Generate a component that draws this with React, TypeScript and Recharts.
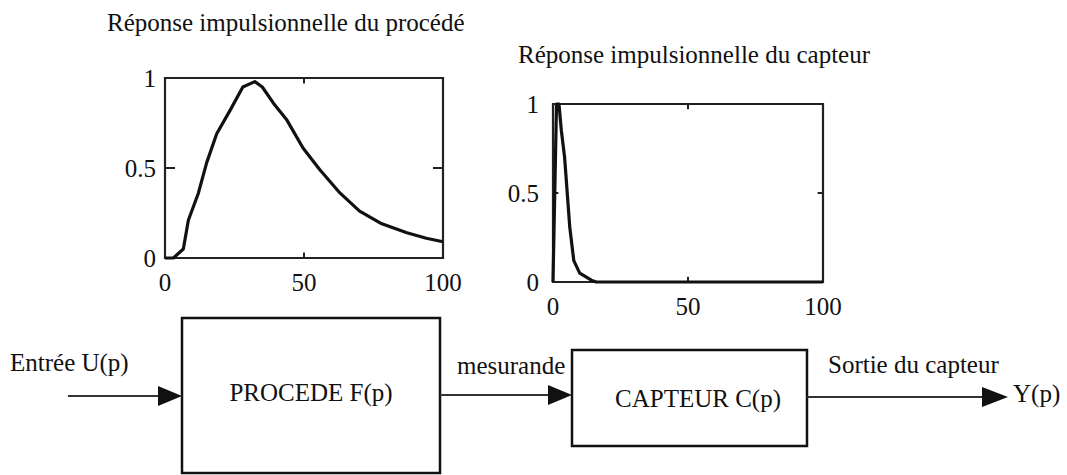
import { LineChart, Line, XAxis, YAxis, ReferenceLine, ReferenceArea } from "recharts";

// impulse response of the process
const procX = [0, 3, 6.6, 8.4, 12, 15, 18.6, 23.4, 28, 32.3, 35, 39, 43.7, 49.7, 55.7, 63, 70, 78, 87, 94, 100];
const procY = [0, 0, 0.05, 0.21, 0.36, 0.53, 0.69, 0.82, 0.95, 0.98, 0.95, 0.86, 0.77, 0.61, 0.49, 0.36, 0.26, 0.19, 0.14, 0.11, 0.09];

// impulse response of the sensor
const captX = [0, 1.3, 2.2, 3.1, 4.3, 6.2, 7.7, 9.9, 14.2, 16, 50, 100];
const captY = [0, 1, 1, 0.85, 0.7, 0.31, 0.12, 0.05, 0.01, 0, 0, 0];

const xTicks = [0, 50, 100];
const yTicks = [0, 0.5, 1];
const yTickLabels = ["0", "0.5", "1"];

const procData = procX.map((x, i) => ({ x, y: procY[i] }));
const captData = captX.map((x, i) => ({ x, y: captY[i] }));

const FONT = '"Liberation Serif", "Times New Roman", serif';
const INK = "#111";

type PanelProps = {
  data: { x: number; y: number }[];
  width: number;
  height: number;
  margin: { top: number; right: number; bottom: number; left: number };
  yMargin: number;
  yTickLen: number; // in x units
  xTickLen: number; // in y units
};

function Panel({ data, width, height, margin, yMargin, yTickLen, xTickLen }: PanelProps) {
  const tickStyle = { fill: INK, fontSize: 25, fontFamily: FONT };
  return (
    <LineChart width={width} height={height} data={data} margin={margin}>
      <XAxis
        dataKey="x"
        type="number"
        domain={[0, 100]}
        ticks={xTicks}
        tickLine={false}
        tickSize={0}
        tickMargin={15}
        height={40}
        axisLine={false}
        tick={tickStyle}
        interval={0}
      />
      <YAxis
        type="number"
        domain={[0, 1]}
        ticks={yTicks}
        tickFormatter={(v: number) => yTickLabels[yTicks.indexOf(v)]}
        tickLine={false}
        tickSize={0}
        tickMargin={yMargin}
        width={60}
        axisLine={false}
        tick={tickStyle}
        interval={0}
      />
      {/* frame round the plot */}
      <ReferenceArea x1={0} x2={100} y1={0} y2={1} fill="none" stroke="#222" strokeWidth={2.2} ifOverflow="visible" />
      {/* small inner tick marks */}
      <ReferenceLine segment={[{ x: 0, y: 0.5 }, { x: yTickLen, y: 0.5 }]} stroke="#222" strokeWidth={2} />
      <ReferenceLine segment={[{ x: 100 - yTickLen, y: 0.5 }, { x: 100, y: 0.5 }]} stroke="#222" strokeWidth={2} />
      <ReferenceLine segment={[{ x: 50, y: 0 }, { x: 50, y: xTickLen }]} stroke="#222" strokeWidth={2} />
      <ReferenceLine segment={[{ x: 50, y: 1 - xTickLen }, { x: 50, y: 1 }]} stroke="#222" strokeWidth={2} />
      <Line
        dataKey="y"
        type="linear"
        stroke={INK}
        strokeWidth={3.2}
        strokeLinejoin="round"
        dot={false}
        isAnimationActive={false}
      />
    </LineChart>
  );
}

export default function App() {
  const txt = { fontFamily: FONT, fontSize: 25, fill: INK };
  return (
    <div style={{ position: "relative", width: 1067, height: 475, background: "#fff", overflow: "hidden" }}>
      <style>{"body{margin:0}"}</style>
      <svg width={1067} height={475} style={{ position: "absolute", left: 0, top: 0 }}>
        <text x={107} y={31} {...txt}>Réponse impulsionnelle du procédé</text>
        <text x={518} y={63} {...txt}>Réponse impulsionnelle du capteur</text>

        {/* input */}
        <text x={10} y={371} {...txt}>Entrée U(p)</text>
        <line x1={68} y1={396} x2={162} y2={396} stroke="#333" strokeWidth={2} />
        <polygon points="158,386 182,396 158,406" fill={INK} />

        {/* process block */}
        <rect x={182} y={318} width={258} height={155} fill="none" stroke={INK} strokeWidth={2.5} />
        <text x={311} y={401} textAnchor="middle" {...txt}>PROCEDE F(p)</text>

        {/* measurand */}
        <text x={457} y={374} {...txt}>mesurande</text>
        <line x1={440} y1={395} x2={552} y2={395} stroke="#333" strokeWidth={2} />
        <polygon points="548,385 572,395 548,405" fill={INK} />

        {/* sensor block */}
        <rect x={572} y={350} width={235} height={96} fill="none" stroke={INK} strokeWidth={2.5} />
        <text x={698} y={407} textAnchor="middle" {...txt}>CAPTEUR C(p)</text>

        {/* output */}
        <text x={828} y={373} {...txt}>Sortie du capteur</text>
        <line x1={807} y1={397} x2={986} y2={397} stroke="#333" strokeWidth={2} />
        <polygon points="982,387 1008,397 982,407" fill={INK} />
        <text x={1013} y={402} {...txt}>Y(p)</text>
      </svg>

      <div style={{ position: "absolute", left: 90, top: 50 }}>
        <Panel
          data={procData}
          width={390}
          height={260}
          margin={{ top: 28, right: 37, bottom: 12, left: 15 }}
          yMargin={9}
          yTickLen={3.6}
          xTickLen={0.03}
        />
      </div>
      <div style={{ position: "absolute", left: 480, top: 80 }}>
        <Panel
          data={captData}
          width={390}
          height={260}
          margin={{ top: 24, right: 47, bottom: 18, left: 13 }}
          yMargin={14}
          yTickLen={2}
          xTickLen={0.03}
        />
      </div>
    </div>
  );
}
